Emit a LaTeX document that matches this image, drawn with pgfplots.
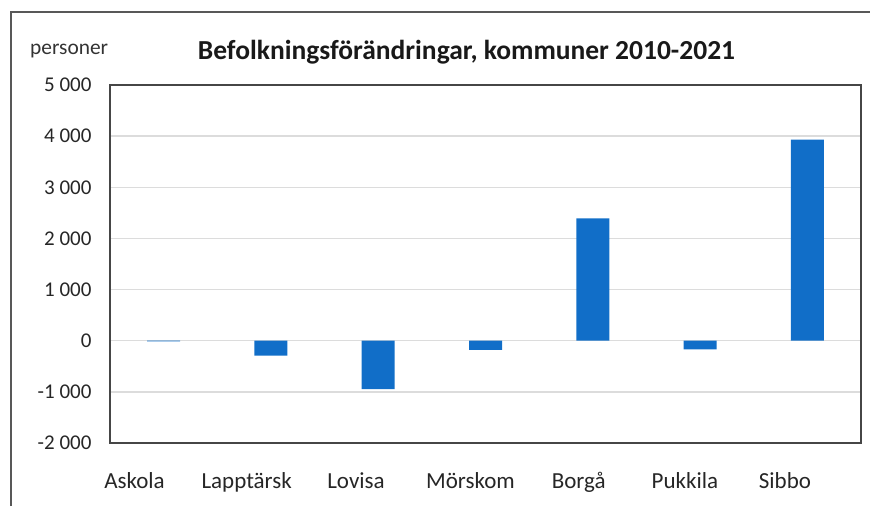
\documentclass[border=0pt]{standalone}
\usepackage{pgfplots}
\pgfplotsset{compat=1.18}
\usepackage{fontspec}
\setmainfont{Carlito}
\definecolor{barblue}{RGB}{17,110,200}
\definecolor{gridgray}{RGB}{220,220,220}
\definecolor{framegray}{RGB}{70,70,70}

\begin{document}
\begin{tikzpicture}[x=1pt,y=1pt]
\path[use as bounding box] (0,0) rectangle (870,-506);
% outer chart frame (cropped at right and bottom)
\draw[framegray!90, line width=2pt] (11,-506) -- (11,-12) -- (870,-12);
\begin{axis}[
  at={(110pt,-443pt)}, anchor=south west,
  scale only axis, width=751pt, height=358pt,
  xmin=-0.5, xmax=6.5, ymin=-2000, ymax=5000,
  ytick={-2000,-1000,...,5000},
  yticklabels={-2 000,-1 000,0,1 000,2 000,3 000,4 000,5 000},
  xtick={-0.272,0.774,1.793,2.860,3.869,4.859,5.791},
  xticklabels={Askola,Lapptärsk,Lovisa,Mörskom,Borgå,Pukkila,Sibbo},
  ymajorgrids, grid style={gridgray, line width=1.5pt},
  major tick length=0pt,
  axis line style={framegray, line width=1.5pt},
  yticklabel style={font=\fontsize{21}{24}\selectfont, text=black!85, xshift=-15pt},
  xticklabel style={font=\fontsize{23}{26}\selectfont, text=black!85,
    anchor=base, yshift=-45pt},
]
\addplot[ybar, bar width=33pt, fill=barblue, draw=none] coordinates {
  (0,-15) (1,-290) (2,-945) (3,-180) (4,2390) (5,-170) (6,3930)
};
\end{axis}
\node[anchor=base, inner sep=0pt, font=\bfseries\fontsize{27.5}{30}\selectfont, text=black!90] at (466.5,-59) {Befolkningsförändringar, kommuner 2010-2021};
\node[anchor=base west, inner sep=0pt, font=\fontsize{21.4}{24}\selectfont, text=black!80] at (30,-54) {personer};
\end{tikzpicture}
\end{document}
